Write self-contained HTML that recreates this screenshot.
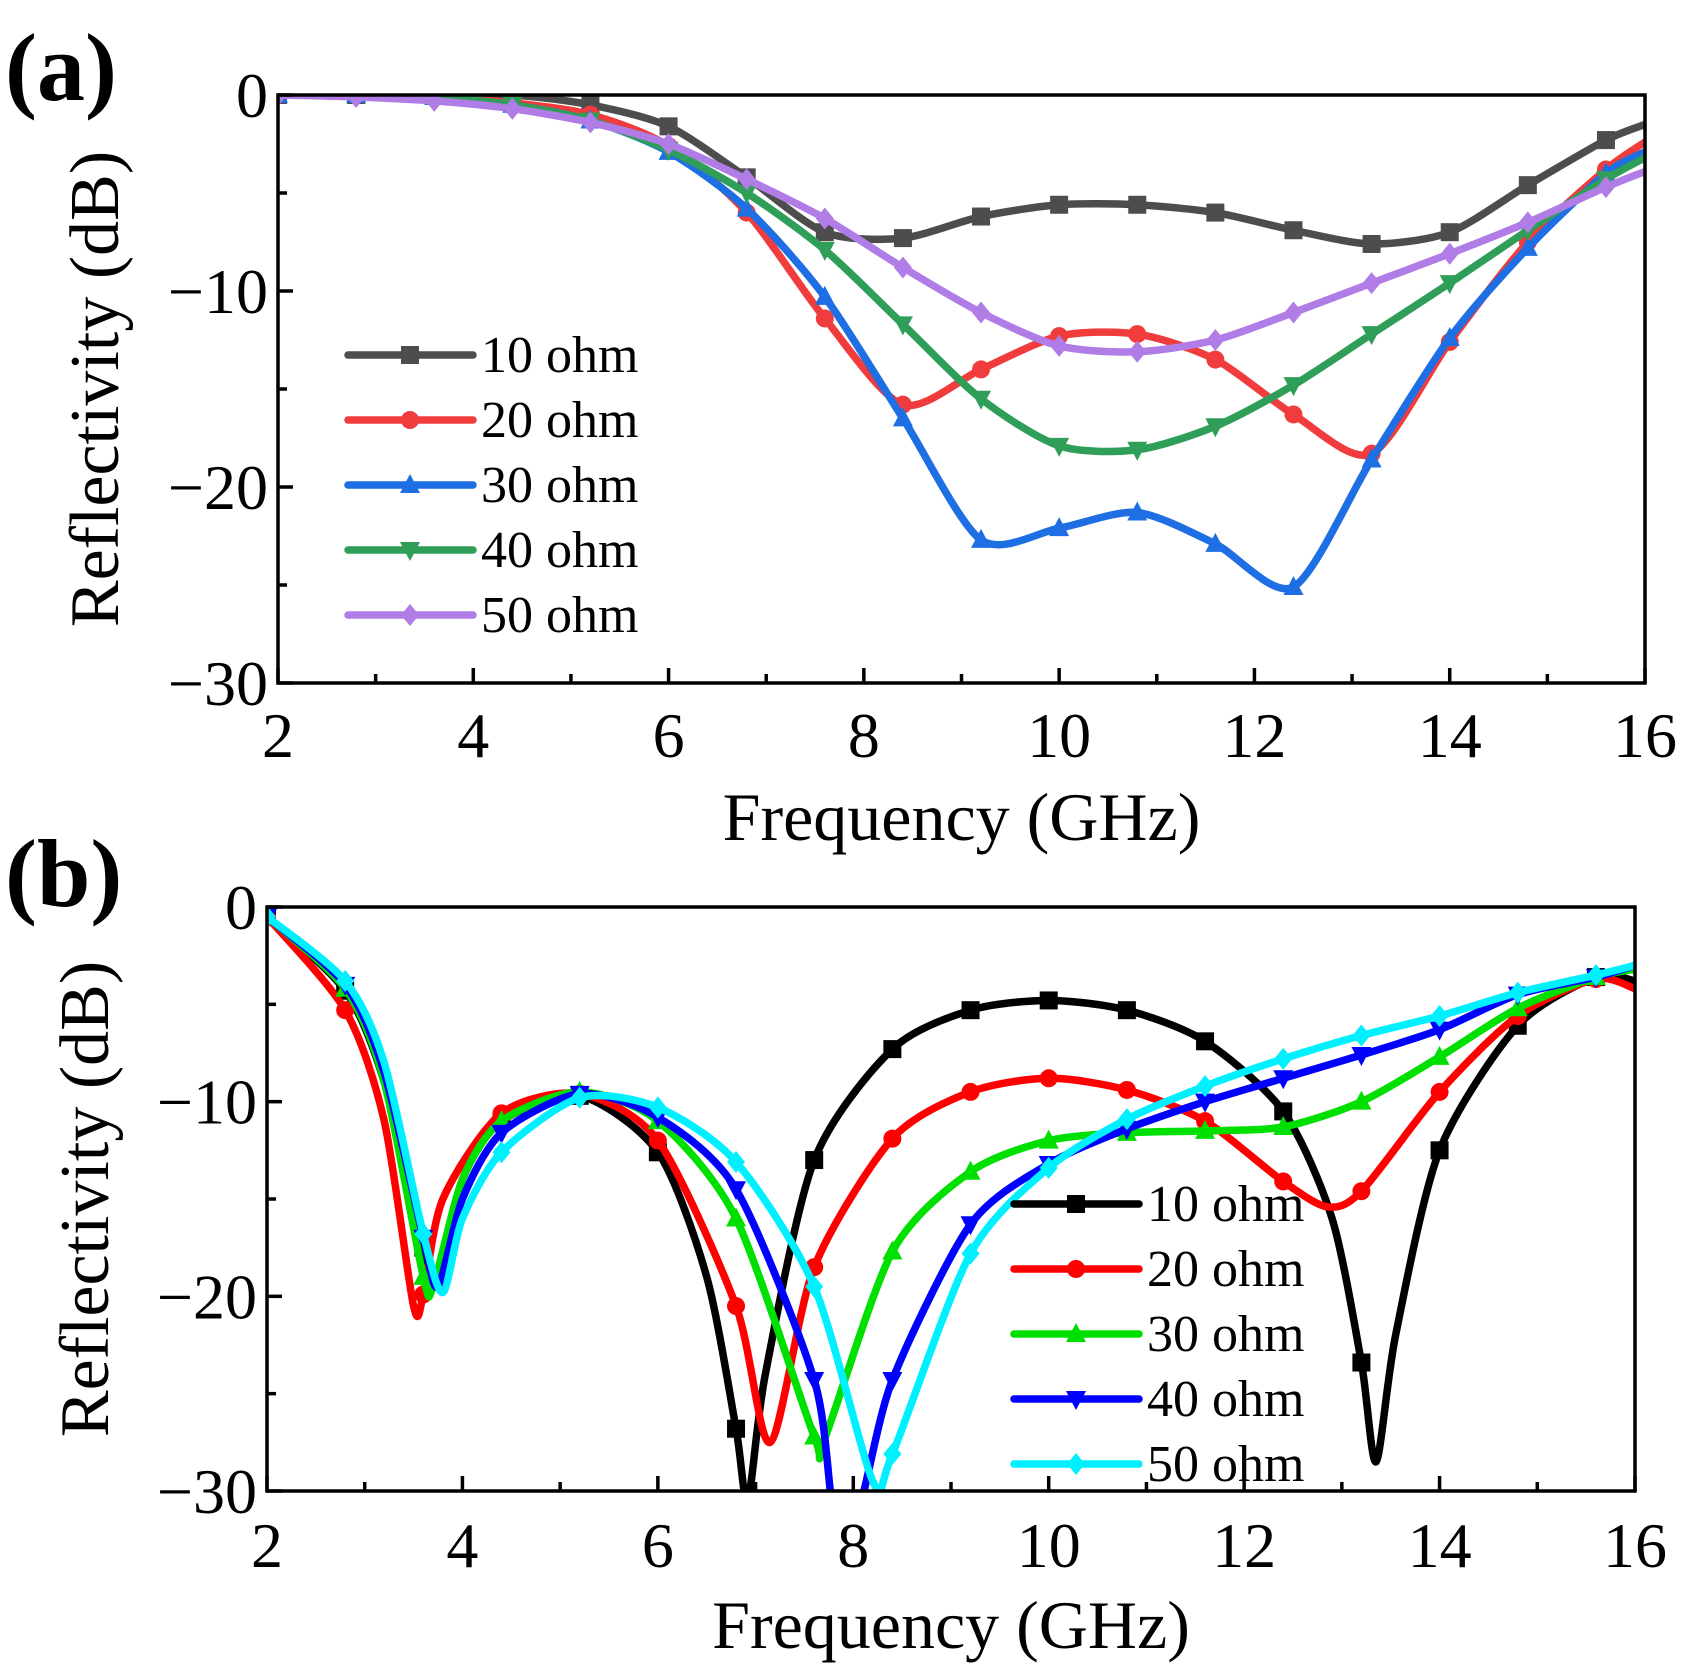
<!DOCTYPE html>
<html><head><meta charset="utf-8"><style>
html,body{margin:0;padding:0;background:#fff;}
svg{display:block;font-family:"Liberation Serif",serif;}
</style></head><body>
<svg id="chart" width="1689" height="1672" viewBox="0 0 1689 1672"></svg>
<script>
// ---- Data ----
const seriesNames = ["10 ohm","20 ohm","30 ohm","40 ohm","50 ohm"];
const xTicks = [2,4,6,8,10,12,14,16];
const yTicks = [0,-10,-20,-30];
const yTickLabels = ["0","\u221210","\u221220","\u221230"];
// Panel (a): sampled at 0.8 GHz steps
const freqA = [2,2.8,3.6,4.4,5.2,6.0,6.8,7.6,8.4,9.2,10,10.8,11.6,12.4,13.2,14,14.8,15.6,16];
const a10 = [0,0,0,0,-0.5,-1.6,-4.2,-7.0,-7.3,-6.2,-5.6,-5.6,-6.0,-6.9,-7.6,-7.0,-4.6,-2.3,-1.5];
const a20 = [0,0,-0.1,-0.4,-1.0,-2.6,-6.0,-11.4,-15.8,-14.0,-12.3,-12.2,-13.5,-16.3,-18.3,-12.6,-7.5,-3.8,-2.4];
const a30 = [0,0,-0.1,-0.5,-1.3,-2.9,-5.8,-10.3,-16.5,-22.7,-22.1,-21.3,-22.9,-25.1,-18.6,-12.4,-7.8,-4.0,-2.9];
const a40 = [0,0,-0.1,-0.5,-1.3,-2.8,-5.0,-7.9,-11.7,-15.5,-17.9,-18.1,-16.9,-14.8,-12.2,-9.6,-6.9,-4.3,-3.2];
const a50 = [0,-0.1,-0.3,-0.7,-1.4,-2.5,-4.3,-6.3,-8.8,-11.1,-12.8,-13.1,-12.5,-11.1,-9.6,-8.1,-6.5,-4.7,-3.9];
// Panel (b)
const fb10 = [2,2.8,3.2,3.6,3.75,4.0,4.4,5.2,6,6.5,6.8,6.92,7.1,7.6,8.4,9.2,10,10.8,11.6,12.4,12.9,13.2,13.35,13.55,14,14.8,15.6,16];
const b10  = [-0.5,-4.3,-9,-17.5,-19,-14,-11,-9.7,-12.6,-19,-26.8,-30.5,-24,-13,-7.3,-5.3,-4.8,-5.3,-6.9,-10.5,-16,-23.4,-28.5,-22,-12.5,-6.1,-3.6,-3.8];
const fb20 = [2,2.8,3.2,3.5,3.6,3.8,4.4,5.2,6,6.8,7.15,7.6,8.4,9.2,10,10.8,11.6,12.4,12.85,13.2,14,14.8,15.6,16];
const b20  = [-0.5,-5.3,-11,-20.5,-19.9,-15,-10.6,-9.6,-12,-20.5,-27.5,-18.5,-11.9,-9.5,-8.8,-9.4,-11,-14.1,-15.4,-14.6,-9.5,-5.6,-3.7,-4.2];
const fb30 = [2,2.8,3.2,3.6,3.7,4.0,4.4,5.2,6,6.8,7.6,7.7,8.4,9.2,10,10.8,11.6,12.4,13.2,14,14.8,15.6,16];
const b30  = [-0.5,-4.2,-9,-19,-19.5,-14,-11,-9.5,-11,-16,-27.2,-27.4,-17.7,-13.6,-12,-11.6,-11.5,-11.3,-10,-7.7,-5.2,-3.6,-3.2];
const fb40 = [2,2.8,3.2,3.6,3.75,4.0,4.4,5.2,6,6.8,7.6,7.8,8.05,8.4,9.2,10,10.8,11.6,12.4,13.2,14,14.8,15.6,16];
const b40  = [-0.5,-4,-8.5,-17,-19.5,-15,-11.6,-9.6,-10.8,-14.5,-24.3,-31,-31,-24.3,-16.3,-13.2,-11.4,-10,-8.8,-7.6,-6.3,-4.5,-3.6,-3];
const fb50 = [2,2.8,3.2,3.6,3.8,4.0,4.4,5.2,6,6.8,7.6,8.2,8.4,9.2,10,10.8,11.6,12.4,13.2,14,14.8,15.6,16];
const b50  = [-0.5,-3.8,-8,-16.8,-19.8,-16,-12.6,-9.8,-10.3,-13.1,-19.5,-29.5,-28.1,-17.8,-13.4,-10.9,-9.2,-7.8,-6.6,-5.6,-4.4,-3.5,-3];

const NS="http://www.w3.org/2000/svg";
const svg=document.getElementById('chart');
function mk(tag,attrs,parent){const e=document.createElementNS(NS,tag);for(const k in attrs)e.setAttribute(k,attrs[k]);(parent||svg).appendChild(e);return e;}

function panel(cfg){
  const {L,R,T,B,id}=cfg;
  const g=mk('g',{});
  
  
  const sx=f=>L+(f-2)/14*(R-L);
  const sy=v=>T+(-v)/30*(B-T);
  const cid='clip-'+id;
  const cp=mk('clipPath',{id:cid},g);mk('rect',{x:L,y:T,width:R-L,height:B-T},cp);
  cfg.series.forEach((s,si)=>{
    const sg=mk('g',{'clip-path':'url(#'+cid+')'},g);
    
    
    const pts=s.f.map((f,i)=>[sx(f),sy(s.v[i])]);
    let d='M'+pts[0][0]+','+pts[0][1];
    for(let i=0;i<pts.length-1;i++){
      const p0=pts[Math.max(0,i-1)],p1=pts[i],p2=pts[i+1],p3=pts[Math.min(pts.length-1,i+2)];
      const t=0.4/3;
      const c1=[p1[0]+(p2[0]-p0[0])*t,p1[1]+(p2[1]-p0[1])*t];
      const c2=[p2[0]-(p3[0]-p1[0])*t,p2[1]-(p3[1]-p1[1])*t];
      d+=' C'+c1[0]+','+c1[1]+' '+c2[0]+','+c2[1]+' '+p2[0]+','+p2[1];
    }
    const line=mk('path',{d:d,fill:'none',stroke:s.c,'stroke-width':7.5,'stroke-linejoin':'round'},sg);
    
    
    s.f.forEach((f,i)=>{
      const k=(f-2)/0.8;
      if(Math.abs(k-Math.round(k))>1e-6)return;
      const m=marker(s.m,sx(f),sy(s.v[i]),s.c,sg);
      
      
    });
  });
  const fr=mk('rect',{x:L,y:T,width:R-L,height:B-T,fill:'none',stroke:'#000','stroke-width':3.5},g);
  
  
  for(let f=2;f<=16;f+=1){
    const maj=(f%2===0);
    mk('line',{x1:sx(f),x2:sx(f),y1:B,y2:B-(maj?15:9),stroke:'#000','stroke-width':3.5},g);
  }
  for(let v=0;v>=-30;v-=5){
    const maj=(v%10===0);
    mk('line',{x1:L,x2:L+(maj?15:9),y1:sy(v),y2:sy(v),stroke:'#000','stroke-width':3.5},g);
  }
  xTicks.forEach(f=>{
    const t=mk('text',{x:sx(f),y:cfg.xlabY,'font-size':64,'text-anchor':'middle'},g);
    t.textContent=f;
    
    
  });
  yTicks.forEach((v,i)=>{
    const t=mk('text',{x:L-10,y:sy(v)+22,'font-size':64,'text-anchor':'end'},g);
    t.textContent=yTickLabels[i];
    
    
  });
  const xt=mk('text',{x:(L+R)/2,y:cfg.xTitleY,'font-size':68,'text-anchor':'middle'},g);
  xt.textContent='Frequency (GHz)';
  
  
  const yt=mk('text',{x:0,y:0,'font-size':70,'text-anchor':'middle',transform:'translate('+cfg.yTitleX+','+(T+B)/2+') rotate(-90)'},g);
  yt.textContent='Reflectivity (dB)';
  
  
  const pl=mk('text',{x:5,y:cfg.labY,'font-size':96,'font-weight':'bold'},g);
  pl.textContent=cfg.label;
  
  
  const lg=mk('g',{},g);
  
  
  cfg.series.forEach((s,i)=>{
    const y=cfg.legY+i*65;
    const e=mk('g',{},lg);
    
    
    mk('line',{x1:cfg.legX,x2:cfg.legX+125,y1:y,y2:y,stroke:s.c,'stroke-width':7.5,'stroke-linecap':'round'},e);
    marker(s.m,cfg.legX+62,y,s.c,e);
    const t=mk('text',{x:cfg.legX+133,y:y+17,'font-size':52},e);
    t.textContent=seriesNames[i];
  });
}
function marker(type,x,y,c,p){
  const r=9;
  if(type==='sq')return mk('rect',{x:x-r,y:y-r,width:2*r,height:2*r,fill:c},p);
  if(type==='ci')return mk('circle',{cx:x,cy:y,r:r,fill:c},p);
  if(type==='tu')return mk('polygon',{points:`${x},${y-r-2} ${x-r-1},${y+r-1} ${x+r+1},${y+r-1}`,fill:c},p);
  if(type==='td')return mk('polygon',{points:`${x},${y+r+2} ${x-r-1},${y-r+1} ${x+r+1},${y-r+1}`,fill:c},p);
  return mk('polygon',{points:`${x},${y-r-2} ${x+r},${y} ${x},${y+r+2} ${x-r},${y}`,fill:c},p);
}
panel({id:'a',L:278,R:1645,T:95,B:683,xlabY:757,xTitleY:840,yTitleX:118,labY:100,label:'(a)',legX:348,legY:355,
  series:[{f:freqA,v:a10,c:'#4d4d4d',m:'sq'},{f:freqA,v:a20,c:'#f03c3c',m:'ci'},{f:freqA,v:a30,c:'#1e6fe3',m:'tu'},{f:freqA,v:a40,c:'#2e9e58',m:'td'},{f:freqA,v:a50,c:'#b07ce6',m:'di'}]});
panel({id:'b',L:267,R:1635,T:907,B:1491,xlabY:1567,xTitleY:1648,yTitleX:108,labY:906,label:'(b)',legX:1014,legY:1204,
  series:[{f:fb10,v:b10,c:'#000000',m:'sq'},{f:fb20,v:b20,c:'#ff0000',m:'ci'},{f:fb30,v:b30,c:'#00e000',m:'tu'},{f:fb40,v:b40,c:'#0000ff',m:'td'},{f:fb50,v:b50,c:'#00f0ff',m:'di'}]});
</script>
</body></html>
